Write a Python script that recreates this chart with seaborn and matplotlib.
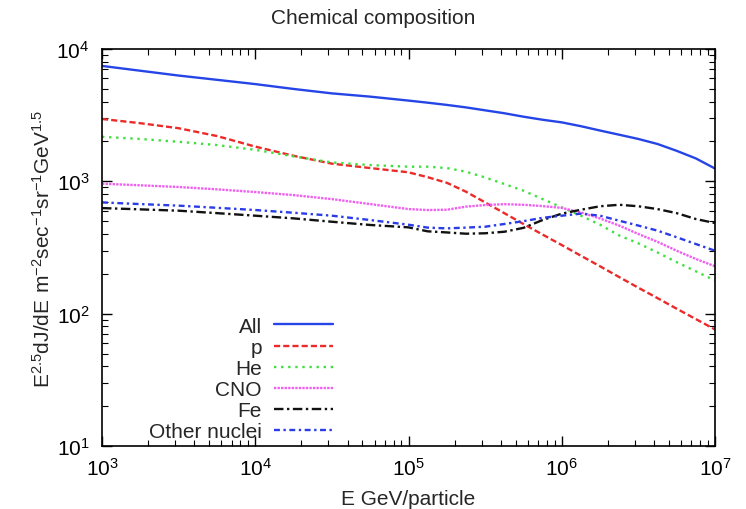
import numpy as np
import pandas as pd
import matplotlib
matplotlib.use("Agg")
import matplotlib.pyplot as plt
import seaborn as sns
from matplotlib.ticker import LogLocator, LogFormatterSciNotation, NullFormatter

log_energy = [3.0, 3.25, 3.5, 3.75, 4.0, 4.25, 4.5, 4.75, 5.0, 5.125, 5.25, 5.375, 5.5,
              5.625, 5.75, 5.875, 6.0, 6.125, 6.25, 6.375, 6.5, 6.625, 6.75, 6.875, 7.0]
all_flux = [7450, 6850, 6300, 5850, 5430, 4990, 4620, 4365, 4075, 3930, 3780, 3620, 3440,
            3270, 3080, 2920, 2790, 2610, 2420, 2250, 2090, 1915, 1700, 1490, 1250]
p_flux = [2960, 2750, 2520, 2200, 1830, 1560, 1360, 1260, 1170, 1075, 975, 835, 693,
          575, 476, 396, 330, 274, 228, 189, 157, 131, 109, 91, 76]
he_flux = [2170, 2090, 1990, 1880, 1730, 1545, 1390, 1327, 1290, 1290, 1260, 1183, 1070,
           955, 850, 734, 636, 550, 470, 390, 340, 290, 245, 209, 178]
cno_flux = [960, 933, 906, 870, 830, 787, 734, 673, 617, 607, 610, 644, 662,
            672, 665, 650, 630, 582, 524, 463, 400, 349, 299, 259, 228]
fe_flux = [628, 614, 600, 575, 550, 525, 495, 468, 449, 419, 411, 402, 405,
           416, 445, 510, 570, 610, 648, 665, 648, 617, 575, 519, 484]
other_flux = [693, 673, 655, 631, 607, 579, 550, 510, 470, 447, 441, 447, 454,
              476, 500, 530, 550, 570, 550, 504, 463, 424, 378, 336, 299]

labels = ["All", "p", "He", "CNO", "Fe", "Other nuclei"]
series = [all_flux, p_flux, he_flux, cno_flux, fe_flux, other_flux]
colors = ["#2545e6", "#ec2a2a", "#3ee03e", "#f060f0", "#111111", "#2a3ce6"]
dashes = [None, (2.6, 1.3), (1, 2), (1, 0.5), (4, 1.5, 1, 1.5), (2.5, 1.5, 1, 1.5)]

sns.set_theme(style="ticks")
plt.rcParams['font.family'] = ['Liberation Sans', 'DejaVu Sans']
plt.rcParams['mathtext.fontset'] = 'custom'
plt.rcParams['mathtext.rm'] = 'Liberation Sans'

fig = plt.figure(figsize=(7.46, 5.10), dpi=100)
ax = fig.add_axes([102/746, 1-447/510, 613/746, 397/510])

energy = [10 ** v for v in log_energy]
for lab, vals, c, d in zip(labels, series, colors, dashes):
    df = pd.DataFrame({"E": energy, "flux": vals})
    sns.lineplot(data=df, x="E", y="flux", ax=ax, color=c, lw=1.7, label=lab)
    l = ax.get_lines()[-1]
    if d is not None:
        l.set_dashes(d)

ax.set_xscale("log")
ax.set_yscale("log")
ax.set_xlim(1e3, 1e7)
ax.set_ylim(10, 1e4)

for a in (ax.xaxis, ax.yaxis):
    a.set_major_locator(LogLocator(base=10, numticks=10))
    a.set_minor_locator(LogLocator(base=10, subs=np.arange(2, 10), numticks=20))
    a.set_major_formatter(LogFormatterSciNotation())
    a.set_minor_formatter(NullFormatter())

ax.tick_params(which="both", direction="in", top=True, right=True, colors="black",
               labelsize=15)
ax.tick_params(which="major", length=7, width=1)
ax.tick_params(which="minor", length=4, width=0.8)
ax.tick_params(axis="x", pad=8)
ax.tick_params(axis="y", pad=9)
for s in ax.spines.values():
    s.set_color("black")
    s.set_linewidth(1.2)

ax.set_xlabel("E GeV/particle", fontsize=15, labelpad=7)
ax.set_ylabel(r"$\mathdefault{E^{2.5}dJ/dE\ m^{-2}sec^{-1}sr^{-1}GeV^{1.5}}$", fontsize=15, labelpad=2)
ax.set_title("Chemical composition", fontsize=15, pad=19, x=(373 - 102) / 613)

leg = ax.legend(loc="lower right", bbox_to_anchor=(0.407, -0.035), markerfirst=False,
                frameon=False, fontsize=15, handlelength=2.8, labelspacing=0.1,
                handletextpad=0.6)

fig.savefig("out.png", dpi=100)
